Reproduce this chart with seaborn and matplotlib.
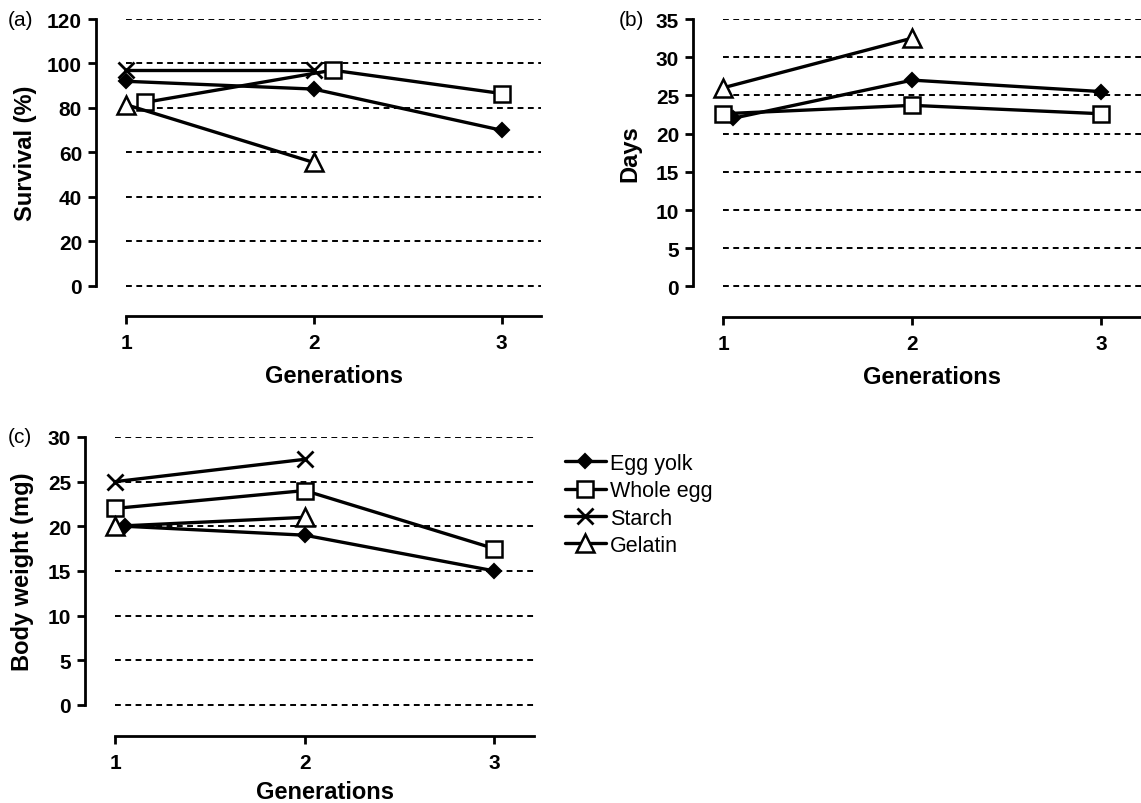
import numpy as np
import pandas as pd
import matplotlib
matplotlib.use("Agg")
import matplotlib.pyplot as plt
import seaborn as sns
from matplotlib.lines import Line2D

# ---------------- data ----------------
diets = ["Egg yolk", "Whole egg", "Starch", "Gelatin"]

# (a) Survival (%)
a_yolk_x, a_yolk_y = [1, 2, 3], [92, 88.5, 70]
a_whole_x, a_whole_y = [1.1, 2.1, 3], [82.5, 97, 86.5]
a_starch_x, a_starch_y = [1, 2], [97, 97]
a_gel_x, a_gel_y = [1, 2], [81.5, 55.5]

# (b) Days
b_yolk_x, b_yolk_y = [1.05, 2, 3], [22, 27, 25.5]
b_whole_x, b_whole_y = [1, 2, 3], [22.6, 23.7, 22.6]
b_gel_x, b_gel_y = [1, 2], [26, 32.5]

# (c) Body weight (mg)
c_yolk_x, c_yolk_y = [1.05, 2, 3], [20, 19, 15]
c_whole_x, c_whole_y = [1, 2, 3], [22, 24, 17.5]
c_starch_x, c_starch_y = [1, 2], [25, 27.5]
c_gel_x, c_gel_y = [1, 2], [20, 21]

gen_ticks = [1, 2, 3]
yticks_a = [0, 20, 40, 60, 80, 100, 120]
yticks_b = [0, 5, 10, 15, 20, 25, 30, 35]
yticks_c = [0, 5, 10, 15, 20, 25, 30]

panel_labels = ["(a)", "(b)", "(c)"]
ylabels = ["Survival (%)", "Days", "Body weight (mg)"]
xlabel = "Generations"

def frame(panel, diet, xs, ys):
    return pd.DataFrame({"panel": panel, "diet": diet, "gen": xs, "val": ys})

df = pd.concat([
    frame("a", "Egg yolk", a_yolk_x, a_yolk_y),
    frame("a", "Whole egg", a_whole_x, a_whole_y),
    frame("a", "Starch", a_starch_x, a_starch_y),
    frame("a", "Gelatin", a_gel_x, a_gel_y),
    frame("b", "Egg yolk", b_yolk_x, b_yolk_y),
    frame("b", "Whole egg", b_whole_x, b_whole_y),
    frame("b", "Gelatin", b_gel_x, b_gel_y),
    frame("c", "Egg yolk", c_yolk_x, c_yolk_y),
    frame("c", "Whole egg", c_whole_x, c_whole_y),
    frame("c", "Starch", c_starch_x, c_starch_y),
    frame("c", "Gelatin", c_gel_x, c_gel_y),
], ignore_index=True)

# ---------------- style ----------------
sns.set_style("ticks")
plt.rcParams["font.family"] = ["Liberation Sans", "DejaVu Sans"]
plt.rcParams["text.color"] = "black"
plt.rcParams["axes.labelcolor"] = "black"

W, H = 1141, 804
fig = plt.figure(figsize=(W / 100, H / 100), dpi=100)

styles = {
    "Egg yolk": dict(marker="D", ms=7.5, mfc="black", mec="black", mew=1.5),
    "Whole egg": dict(marker="s", ms=11, mfc="white", mec="black", mew=1.8),
    "Starch": dict(marker="x", ms=12, mfc="none", mec="black", mew=2.0),
    "Gelatin": dict(marker="^", ms=13, mfc="white", mec="black", mew=1.8),
}
LW = 2.4

def px_axes(l, r, t, b):
    return fig.add_axes([l / W, 1 - b / H, (r - l) / W, (b - t) / H])

axes_geo = [
    (96, 541, 20, 317),
    (693, 1141, 20, 318),
    (85, 534, 438, 737),
]
ytick_sets = [yticks_a, yticks_b, yticks_c]
ylims = [(-13.5, 120), (-4.0, 35), (-3.5, 30)]
ylabel_right_px = [37, 641, 34]
xlabel_gap_px = [48, 48, 44]
xmax = 3.21
xmin = 0.84

for i, (geo, panel) in enumerate(zip(axes_geo, ["a", "b", "c"])):
    ax = px_axes(*geo)
    yt = ytick_sets[i]
    # dashed reference lines at tick values
    ax.hlines(yt, 1, xmax, colors="black", linewidth=1.4,
              linestyles=(0, (3.0, 2.3)), zorder=1)
    sub = df[df["panel"] == panel]
    for d in diets:
        s = sub[sub["diet"] == d]
        if s.empty:
            continue
        sns.lineplot(data=s, x="gen", y="val", ax=ax, color="black",
                     linewidth=LW, sort=False, estimator=None,
                     zorder=3, **styles[d])
    ax.set_xlim(xmin, xmax)
    ax.set_ylim(*ylims[i])
    ax.set_xticks(gen_ticks)
    ax.set_xticklabels([str(g) for g in gen_ticks])
    ax.set_yticks(yt)
    ax.set_yticklabels([str(v) for v in yt])
    for sp in ["top", "right"]:
        ax.spines[sp].set_visible(False)
    ax.spines["left"].set_bounds(yt[0], yt[-1])
    ax.spines["bottom"].set_bounds(1, xmax)
    for sp in ["left", "bottom"]:
        ax.spines[sp].set_linewidth(2.0)
        ax.spines[sp].set_color("black")
    ax.tick_params(axis="both", direction="out", length=6, width=2.0,
                   colors="black", labelsize=15, pad=4)
    ax.tick_params(axis="x", pad=6)
    for lab in ax.get_xticklabels() + ax.get_yticklabels():
        lab.set_fontweight("bold")
    ax.set_xlabel(xlabel, fontsize=17, fontweight="bold", color="black")
    ax.set_ylabel(ylabels[i], fontsize=17, fontweight="bold", color="black")
    # center labels on the spine extents
    y0, y1 = ax.get_ylim()
    ymid = ((yt[0] + yt[-1]) / 2 - y0) / (y1 - y0)
    xmid = ((1 + xmax) / 2 - xmin) / (xmax - xmin)
    hpx = geo[3] - geo[2]
    wpx = geo[1] - geo[0]
    ax.xaxis.set_label_coords(xmid, -xlabel_gap_px[i] / hpx)
    ax.yaxis.set_label_coords((ylabel_right_px[i] - geo[0]) / wpx, ymid)
    ax.set_facecolor("none")

# panel letters
fig.text(8 / W, 1 - 20 / H, panel_labels[0], fontsize=15, va="center", ha="left")
fig.text(619 / W, 1 - 20 / H, panel_labels[1], fontsize=15, va="center", ha="left")
fig.text(8 / W, 1 - 438 / H, panel_labels[2], fontsize=15, va="center", ha="left")

# legend
handles = [Line2D([], [], color="black", linewidth=LW, **styles[d]) for d in diets]
fig.legend(handles, diets, loc="upper left",
           bbox_to_anchor=(556 / W, 1 - 445 / H), frameon=False,
           fontsize=15.5, handlelength=1.9, handletextpad=0.2,
           labelspacing=0.3, borderaxespad=0)

fig.savefig("out.png", dpi=100)
